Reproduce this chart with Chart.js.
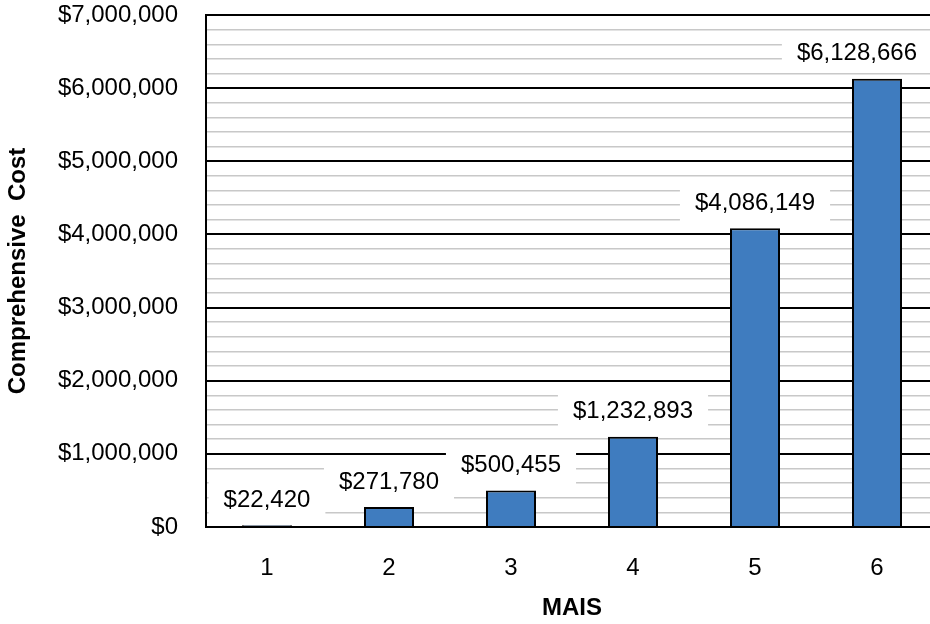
<!DOCTYPE html>
<html>
<head>
<meta charset="utf-8">
<script src="https://cdn.jsdelivr.net/npm/chart.js@4.4.1/dist/chart.umd.min.js"></script>
<style>
  html, body { margin: 0; padding: 0; background: #fff; overflow: hidden; }
  #wrap { width: 940px; height: 624px; }
</style>
</head>
<body>
<div id="wrap"><canvas id="costChart" width="940" height="624"></canvas></div>
<script>
const mais = ['1', '2', '3', '4', '5', '6'];
const comprehensiveCost = [22420, 271780, 500455, 1232893, 4086149, 6128666];
const yMax = 7000000;
const yStep = 200000;

const money = v => '$' + Number(v).toLocaleString('en-US');
const isMajor = v => v % 1000000 === 0;

// white boxed value labels above the bars, kept inside the plot on the right
const barLabels = {
  id: 'barLabels',
  afterDatasetsDraw(chart){
    const ctx = chart.ctx;
    const meta = chart.getDatasetMeta(0);
    const maxRight = chart.chartArea.right - 6;
    ctx.save();
    ctx.font = '24px "Liberation Sans", Arial, sans-serif';
    ctx.textAlign = 'center';
    ctx.textBaseline = 'middle';
    meta.data.forEach((bar, i) => {
      const txt = money(comprehensiveCost[i]);
      const w = ctx.measureText(txt).width + 30;
      const h = 40;
      let cx = bar.x;
      if (cx + w/2 > maxRight) cx = maxRight - w/2;
      ctx.fillStyle = '#ffffff';
      ctx.fillRect(cx - w/2, bar.y - 6 - h, w, h);
      ctx.fillStyle = '#000000';
      ctx.fillText(txt, cx, bar.y - 25);
    });
    ctx.restore();
  }
};

const ctx = document.getElementById('costChart').getContext('2d');
new Chart(ctx, {
  type: 'bar',
  data: {
    labels: mais,
    datasets: [{
      data: comprehensiveCost,
      backgroundColor: '#3f7cbf',
      borderColor: '#000000',
      borderWidth: 2,
      barPercentage: 0.41,
      categoryPercentage: 1
    }]
  },
  options: {
    responsive: false,
    animation: false,
    layout: { padding: { top: 15, right: 2, left: 0, bottom: 0 } },
    plugins: { legend: { display: false }, tooltip: { enabled: false } },
    scales: {
      x: {
        grid: { display: false, drawTicks: false },
        border: { color: '#000000', width: 2 },
        ticks: { color: '#000', padding: 27, font: { family: '"Liberation Sans", Arial', size: 24 } },
        title: { display: true, text: 'MAIS', color: '#000', padding: { top: 0, bottom: 1 },
                 font: { family: '"Liberation Sans", Arial', size: 24, weight: 'bold' } },
        afterFit(scale){ scale.height = 97; scale.paddingLeft = 0; scale.paddingRight = 0; }
      },
      y: {
        min: 0,
        max: yMax,
        grid: {
          drawTicks: false,
          color: c => (c.tick && isMajor(c.tick.value)) ? '#000000' : '#c8c8c8',
          lineWidth: c => (c.tick && isMajor(c.tick.value)) ? 2 : 1.5
        },
        border: { color: '#000000', width: 2 },
        ticks: {
          stepSize: yStep,
          autoSkip: false,
          padding: 28,
          color: '#000',
          font: { family: '"Liberation Sans", Arial', size: 24 },
          callback: v => isMajor(v) ? money(v) : ''
        },
        title: { display: true, text: 'Comprehensive  Cost', color: '#000', padding: { top: 4, bottom: 0 },
                 font: { family: '"Liberation Sans", Arial', size: 24, weight: 'bold' } },
        afterFit(scale){ scale.width = 206; scale.paddingTop = 0; scale.paddingBottom = 0; }
      }
    }
  },
  plugins: [barLabels]
});
</script>
</body>
</html>
